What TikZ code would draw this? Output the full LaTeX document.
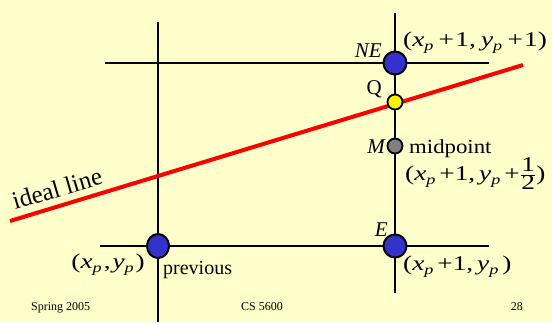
\documentclass[tikz,border=0pt]{standalone}
\usepackage{graphicx}
\usepackage{fontspec}
\usetikzlibrary{shapes.geometric}
\setmainfont{Liberation Serif}
\definecolor{bg}{RGB}{255,255,204}
\definecolor{ptblue}{RGB}{51,51,204}
\definecolor{ptgray}{RGB}{128,128,128}
\newcommand\ps{\raisebox{-4.5pt}{\fontsize{14}{14}\selectfont\itshape p}}
\newcommand\vx{\textit{x}}
\newcommand\vy{\textit{y}}
\newcommand\gp{\hspace{3pt}}
\newcommand\gq{\hspace{4pt}}
\newcommand\eqbox[1]{\scalebox{1.3}[1]{#1}}
\begin{document}
\begin{tikzpicture}[x=1pt,y=-1pt,
  gridline/.style={line width=2pt,black},
  bigdot/.style={circle,draw=black,line width=2pt,minimum size=23pt,inner sep=0pt},
  smalldot/.style={circle,draw=black,line width=1.8pt,minimum size=15pt,inner sep=0pt},
  lbl/.style={inner sep=0pt,font=\fontsize{21}{21}\selectfont},
  foot/.style={inner sep=0pt,font=\fontsize{12}{12}\selectfont}]
\fill[bg] (0,0) rectangle (552,322);
\useasboundingbox (0,0) rectangle (552,322);
% grid
\coordinate (lt) at (158,22);
\coordinate (lb) at (158,322);
\coordinate (rt) at (395,13);
\coordinate (rb) at (395,293);
\coordinate (tl) at (105,63);
\coordinate (tr) at (489,63);
\coordinate (bl) at (100,246);
\coordinate (br) at (489,246);
\draw[gridline] (lt) -- (lb);
\draw[gridline] (rt) -- (rb);
\draw[gridline] (tl) -- (tr);
\draw[gridline] (bl) -- (br);
% ideal line
\coordinate (il1) at (10,221);
\coordinate (il2) at (523,65);
\draw[red,line width=4pt] (il1) -- (il2);
% dots
\node[bigdot,fill=ptblue] (ne) at (395,63) {};
\node[smalldot,fill=yellow] (q) at (395,102) {};
\node[smalldot,fill=ptgray] (m) at (395,146) {};
\node[bigdot,fill=ptblue] (e) at (395,246) {};
\node[bigdot,ellipse,fill=ptblue,minimum width=22pt,minimum height=24pt] (prev) at (158,246) {};
% labels
\node[lbl,anchor=base east] (nelbl) at (382,57) {\textit{NE}};
\node[lbl,anchor=base west] (necoord) at (403,46) {\eqbox{(\vx\ps\gq+\hspace{1pt}1,\gq\vy\ps\gq+\hspace{1pt}1)}};
\node[lbl,anchor=base east] (qlbl) at (382,94) {Q};
\node[lbl,anchor=base east] (mlbl) at (386,153) {\textit{M}};
\node[lbl,anchor=base west,font=\fontsize{20}{20}\selectfont] (mid) at (409,153) {\scalebox{1.14}[1]{midpoint}};
\node[lbl,anchor=base west] (midcoord) at (405,180) {\eqbox{(\vx\ps\gp+1,\gp\vy\ps\gp+$\frac{\mbox{1}}{\mbox{2}}$)}};
\node[lbl,anchor=base east] (elbl) at (388,236) {\textit{E}};
\node[lbl,anchor=base west] (ecoord) at (403,270) {\eqbox{(\vx\ps\gp+1,\gp\vy\ps\gp)}};
\node[lbl,anchor=base east] (pcoord) at (145,268) {\eqbox{(\vx\ps\hspace{1.5pt},\hspace{1.5pt}\vy\ps\hspace{1.5pt})}};
\node[lbl,anchor=base west,font=\fontsize{20}{20}\selectfont] (prevlbl) at (163,274) {previous};
\node[lbl,anchor=base west,rotate=16.5,font=\fontsize{25}{25}\selectfont] (ideal) at (15,210) {ideal line};
% footer
\node[foot,anchor=base west] (f1) at (31,310) {Spring 2005};
\node[foot,anchor=base] (f2) at (262,310) {CS 5600};
\node[foot,anchor=base east] (f3) at (523,310) {28};
\end{tikzpicture}
\end{document}
